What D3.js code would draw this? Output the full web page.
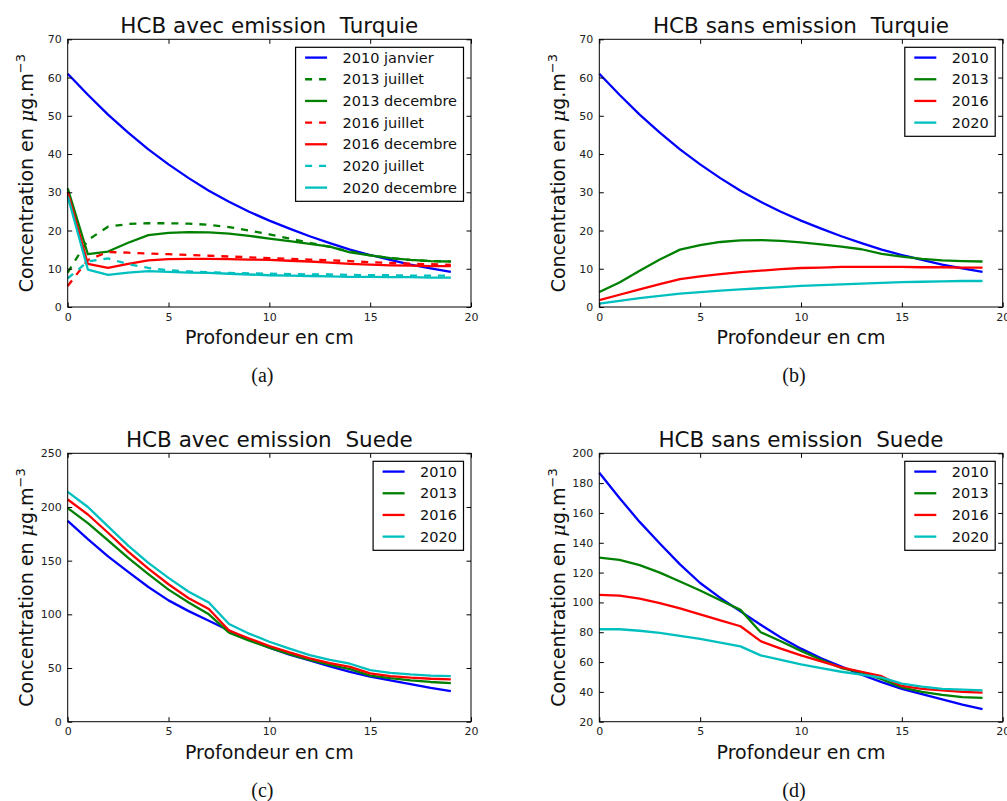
<!DOCTYPE html>
<html>
<head>
<meta charset="utf-8">
<script src="https://cdn.jsdelivr.net/npm/d3@7/dist/d3.min.js"></script>
<style>
  body { margin: 0; background: #fff; }
  svg text { font-family: "DejaVu Sans", sans-serif; }
</style>
</head>
<body>
<svg id="fig" width="1007" height="801"></svg>
<script>
// profondeur (cm)
var depth = [0, 1, 2, 3, 4, 5, 6, 7, 8, 9, 10, 11, 12, 13, 14, 15, 16, 17, 18, 19]

// Turquie, avec emission
var turAvec2010jan = [61, 55.5, 50.3, 45.6, 41.2, 37.3, 33.7, 30.4, 27.5, 24.9, 22.6, 20.5, 18.5, 16.7, 15.0, 13.6, 12.3, 11.1, 10.1, 9.2]
var turAvec2013jul = [9, 17.5, 21, 21.7, 21.9, 21.9, 21.8, 21.5, 20.9, 20.0, 19.0, 17.9, 16.8, 15.7, 14.5, 13.5, 12.8, 12.3, 12.0, 11.9]
var turAvec2013dec = [31, 13.8, 14.5, 16.8, 18.8, 19.4, 19.6, 19.5, 19.2, 18.6, 17.9, 17.2, 16.5, 15.8, 14.3, 13.5, 12.8, 12.3, 12.0, 11.9]
var turAvec2016jul = [5.5, 12.3, 14.4, 14.2, 14.0, 13.8, 13.6, 13.4, 13.2, 13.0, 12.8, 12.6, 12.4, 12.2, 12.0, 11.7, 11.5, 11.3, 11.2, 11.0]
var turAvec2016dec = [30, 11.3, 10.2, 11.3, 12.2, 12.5, 12.6, 12.6, 12.5, 12.4, 12.3, 12.1, 11.9, 11.6, 11.3, 11.1, 10.9, 10.8, 10.7, 10.7]
var turAvec2020jul = [7.5, 11.9, 12.7, 11.2, 10.2, 9.6, 9.3, 9.1, 8.9, 8.8, 8.7, 8.6, 8.5, 8.5, 8.4, 8.3, 8.3, 8.2, 8.2, 8.2]
var turAvec2020dec = [29, 9.8, 8.4, 9.0, 9.4, 9.2, 9.0, 8.9, 8.7, 8.5, 8.3, 8.2, 8.1, 8.0, 7.9, 7.9, 7.8, 7.8, 7.7, 7.7]

// Turquie, sans emission
var turSans2010 = turAvec2010jan
var turSans2013 = [3.9, 6.4, 9.5, 12.4, 15.0, 16.2, 17.0, 17.4, 17.5, 17.3, 16.9, 16.4, 15.8, 15.1, 13.9, 13.2, 12.6, 12.2, 12.0, 11.9]
var turSans2016 = [1.8, 3.2, 4.6, 6.0, 7.3, 8.0, 8.6, 9.1, 9.5, 9.9, 10.2, 10.3, 10.5, 10.5, 10.5, 10.5, 10.4, 10.4, 10.3, 10.3]
var turSans2020 = [0.9, 1.6, 2.3, 2.9, 3.5, 3.9, 4.3, 4.6, 4.9, 5.2, 5.5, 5.7, 5.9, 6.1, 6.3, 6.5, 6.6, 6.7, 6.8, 6.8]

// Suede, avec emission
var sueAvec2010 = [187, 170, 154, 139.5, 125.5, 113, 103, 94, 85, 76.5, 69, 62.5, 57, 51.5, 46.5, 42, 38.5, 35, 31.5, 28.5]
var sueAvec2013 = [199, 185, 169, 152.5, 137.5, 123, 111, 100, 83, 75.5, 69, 63, 57.5, 53, 49, 43, 40.5, 38.5, 37, 36]
var sueAvec2016 = [207, 193, 176, 158.5, 142.5, 128, 115, 105, 85, 77.5, 70.5, 64.5, 59, 54.5, 51, 45, 42.5, 41, 40, 39.5]
var sueAvec2020 = [214, 200, 182, 164, 148, 134, 121, 111, 91, 82, 74.5, 68, 62, 57.5, 54, 48, 45.5, 44, 43, 42.5]

// Suede, sans emission
var sueSans2010 = sueAvec2010
var sueSans2013 = [130, 128.5, 125, 120, 114, 108, 101.5, 95, 80, 74, 67.5, 61.5, 56, 53, 48.5, 43, 40, 38, 36.5, 36]
var sueSans2016 = [105, 104.5, 102.5, 99.5, 96, 92, 88, 84, 74, 69, 64.5, 60.5, 56.5, 53.5, 50.5, 44, 42, 41, 40, 39.5]
var sueSans2020 = [82, 82, 81, 79.5, 77.5, 75.5, 73, 70.5, 64.5, 61.5, 58.5, 56, 53.5, 51.5, 49.5, 45.5, 43.5, 42, 41.5, 41]

var xTicks = [0, 5, 10, 15, 20]
var yTicksTur = [0, 10, 20, 30, 40, 50, 60, 70]
var yTicksSueAvec = [0, 50, 100, 150, 200, 250]
var yTicksSueSans = [20, 40, 60, 80, 100, 120, 140, 160, 180, 200]

var blue = "#0000ff", green = "#008000", red = "#ff0000", cyan = "#00bfbf"

var panels = [
  {title: "HCB avec emission  Turquie", caption: "(a)", left: 67.7, right: 471, top: 39.3, bottom: 307,
    yTicks: yTicksTur, series: [
      {name: "2010 janvier", values: turAvec2010jan, color: blue},
      {name: "2013 juillet", values: turAvec2013jul, color: green, dash: true},
      {name: "2013 decembre", values: turAvec2013dec, color: green},
      {name: "2016 juillet", values: turAvec2016jul, color: red, dash: true},
      {name: "2016 decembre", values: turAvec2016dec, color: red},
      {name: "2020 juillet", values: turAvec2020jul, color: cyan, dash: true},
      {name: "2020 decembre", values: turAvec2020dec, color: cyan}
    ]},
  {title: "HCB sans emission  Turquie", caption: "(b)", left: 599.3, right: 1002.7, top: 39.3, bottom: 307,
    yTicks: yTicksTur, series: [
      {name: "2010", values: turSans2010, color: blue},
      {name: "2013", values: turSans2013, color: green},
      {name: "2016", values: turSans2016, color: red},
      {name: "2020", values: turSans2020, color: cyan}
    ]},
  {title: "HCB avec emission  Suede", caption: "(c)", left: 67.7, right: 471, top: 453.3, bottom: 721.7,
    yTicks: yTicksSueAvec, series: [
      {name: "2010", values: sueAvec2010, color: blue},
      {name: "2013", values: sueAvec2013, color: green},
      {name: "2016", values: sueAvec2016, color: red},
      {name: "2020", values: sueAvec2020, color: cyan}
    ]},
  {title: "HCB sans emission  Suede", caption: "(d)", left: 599.3, right: 1002.7, top: 453.3, bottom: 721.7,
    yTicks: yTicksSueSans, series: [
      {name: "2010", values: sueSans2010, color: blue},
      {name: "2013", values: sueSans2013, color: green},
      {name: "2016", values: sueSans2016, color: red},
      {name: "2020", values: sueSans2020, color: cyan}
    ]}
]

var svg = d3.select("#fig")

panels.forEach(function(p) {
  var x = d3.scaleLinear().domain([0, 20]).range([p.left, p.right])
  var yt = p.yTicks
  var y = d3.scaleLinear().domain([yt[0], yt[yt.length - 1]]).range([p.bottom, p.top])
  var g = svg.append("g")
  var cx = (p.left + p.right) / 2

  // lines
  var line = d3.line().x(function(d, i) { return x(depth[i]) }).y(function(d) { return y(d) })
  p.series.forEach(function(s) {
    g.append("path")
      .attr("d", line(s.values))
      .attr("fill", "none")
      .attr("stroke", s.color)
      .attr("stroke-width", 2.3)
      .attr("stroke-linejoin", "round")
      .attr("stroke-dasharray", s.dash ? "7,7" : null)
  })

  // axes (ticks inward on all four sides)
  var bottomAx = d3.axisBottom(x).tickValues(xTicks).tickSizeInner(-4.5).tickSizeOuter(0).tickPadding(6)
  var topAx = d3.axisTop(x).tickValues(xTicks).tickSizeInner(-4.5).tickSizeOuter(0).tickFormat("")
  var leftAx = d3.axisLeft(y).tickValues(yt).tickSizeInner(-4.5).tickSizeOuter(0).tickPadding(6)
  var rightAx = d3.axisRight(y).tickValues(yt).tickSizeInner(-4.5).tickSizeOuter(0).tickFormat("")

  g.append("g").attr("transform", "translate(0," + p.bottom + ")").call(bottomAx)
  g.append("g").attr("transform", "translate(0," + p.top + ")").call(topAx)
  g.append("g").attr("transform", "translate(" + p.left + ",0)").call(leftAx)
  g.append("g").attr("transform", "translate(" + p.right + ",0)").call(rightAx)
  g.selectAll(".domain").remove()
  g.selectAll(".tick line").attr("stroke", "#000")
  g.selectAll(".tick text").attr("font-size", 11).attr("fill", "#222")
    .style("font-family", "'DejaVu Sans', sans-serif")

  g.append("rect")
    .attr("x", p.left).attr("y", p.top)
    .attr("width", p.right - p.left).attr("height", p.bottom - p.top)
    .attr("fill", "none").attr("stroke", "#000").attr("stroke-width", 1)

  // title
  g.append("text")
    .attr("x", cx).attr("y", p.top - 6.3)
    .attr("text-anchor", "middle")
    .attr("font-size", 21.5)
    .attr("fill", "#111")
    .style("white-space", "pre")
    .text(p.title)

  // x label
  g.append("text")
    .attr("x", cx).attr("y", p.bottom + 37)
    .attr("text-anchor", "middle")
    .attr("font-size", 19)
    .attr("fill", "#111")
    .text("Profondeur en cm")

  // y label
  var yl = g.append("text")
    .attr("transform", "translate(" + (p.left - 34.5) + "," + ((p.top + p.bottom) / 2) + ") rotate(-90)")
    .attr("text-anchor", "middle")
    .attr("font-size", 19)
    .attr("fill", "#111")
  yl.append("tspan").text("Concentration en ")
  yl.append("tspan").attr("font-style", "italic").style("font-family", "'DejaVu Serif', serif").text("\u03bc")
  yl.append("tspan").text("g.m")
  yl.append("tspan").attr("font-size", 13).attr("dy", -8).text("\u22123")

  // caption
  g.append("text")
    .attr("x", cx - 7).attr("y", p.bottom + 75)
    .attr("text-anchor", "middle")
    .attr("font-size", 20)
    .style("font-family", "'Liberation Serif', serif")
    .attr("fill", "#111")
    .text(p.caption)

  // legend
  var lg = g.append("g")
  var rowH = 21.67
  var texts = []
  p.series.forEach(function(s, i) {
    var t = lg.append("text")
      .attr("y", i * rowH + 5)
      .attr("font-size", 14.5)
      .attr("fill", "#111")
      .text(s.name)
    texts.push(t)
  })
  var maxW = d3.max(texts, function(t) { return t.node().getComputedTextLength() })
  var boxW = 47 + maxW + 6.5
  var boxH = 10.3 + (p.series.length - 1) * rowH + 13.7
  var bx = p.right - 7.5 - boxW
  var by = p.top + 8
  lg.attr("transform", "translate(" + bx + "," + by + ")")
  lg.insert("rect", ":first-child")
    .attr("x", 0).attr("y", 0).attr("width", boxW).attr("height", boxH)
    .attr("fill", "#fff").attr("stroke", "#000").attr("stroke-width", 1.2)
  texts.forEach(function(t, i) { t.attr("x", 47).attr("y", 10.3 + i * rowH + 5) })
  p.series.forEach(function(s, i) {
    lg.append("line")
      .attr("x1", 9.5).attr("x2", 31.5)
      .attr("y1", 10.3 + i * rowH).attr("y2", 10.3 + i * rowH)
      .attr("stroke", s.color).attr("stroke-width", 2.3)
      .attr("stroke-dasharray", s.dash ? "7,7" : null)
  })
})
</script>
</body>
</html>
